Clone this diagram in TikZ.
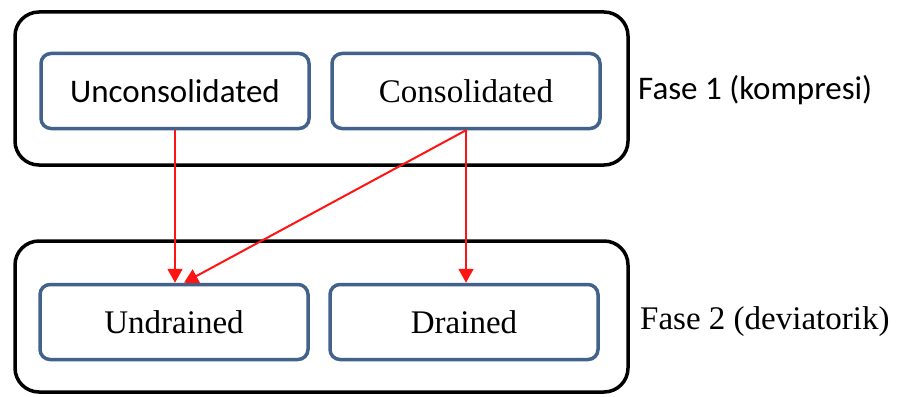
\documentclass[tikz,border=0pt]{standalone}
\usepackage{fontspec}
\setmainfont{Liberation Serif}
\newfontfamily\calib{Carlito}
\usetikzlibrary{arrows.meta}
\definecolor{boxblue}{RGB}{66,98,140}
\definecolor{arrred}{RGB}{255,20,20}
\begin{document}
\begin{tikzpicture}[x=1pt,y=-1pt,
  phase/.style={draw=black,line width=3.5pt,rounded corners=24pt},
  inner/.style={draw=boxblue,line width=3.5pt,rounded corners=10pt,minimum width=268pt,minimum height=75pt,inner sep=0pt,font=\fontsize{33}{40}\selectfont},
  lbl/.style={anchor=west,inner sep=0pt,font=\fontsize{33}{40}\selectfont},
  conn/.style={draw=arrred,line width=2pt,-{Triangle[width=15pt,length=14pt]}}]
\useasboundingbox (0,0) rectangle (901,396);
\fill[white] (0,0) rectangle (901,396);
\draw[phase] (15,12) rectangle (628,165);
\draw[phase] (15,241) rectangle (628,392);
\node[inner,font=\calib\fontsize{33}{40}\selectfont] (uc) at (175,91) {Unconsolidated};
\node[inner] (c) at (466,91) {Consolidated};
\node[inner] (ud) at (174,322) {Undrained};
\node[inner] (d) at (464,322) {Drained};
\node[lbl,font=\calib\fontsize{33}{40}\selectfont] (f1) at (638,90) {Fase 1 (kompresi)};
\node[lbl] (f2) at (640,322) {Fase 2 (deviatorik)};
\draw[conn] (uc.south) -- (uc.south |- ud.north);
\draw[conn] (c.south) -- (c.south |- d.north);
\draw[conn] (c.south) -- ([xshift=10pt]ud.north);
\end{tikzpicture}
\end{document}
